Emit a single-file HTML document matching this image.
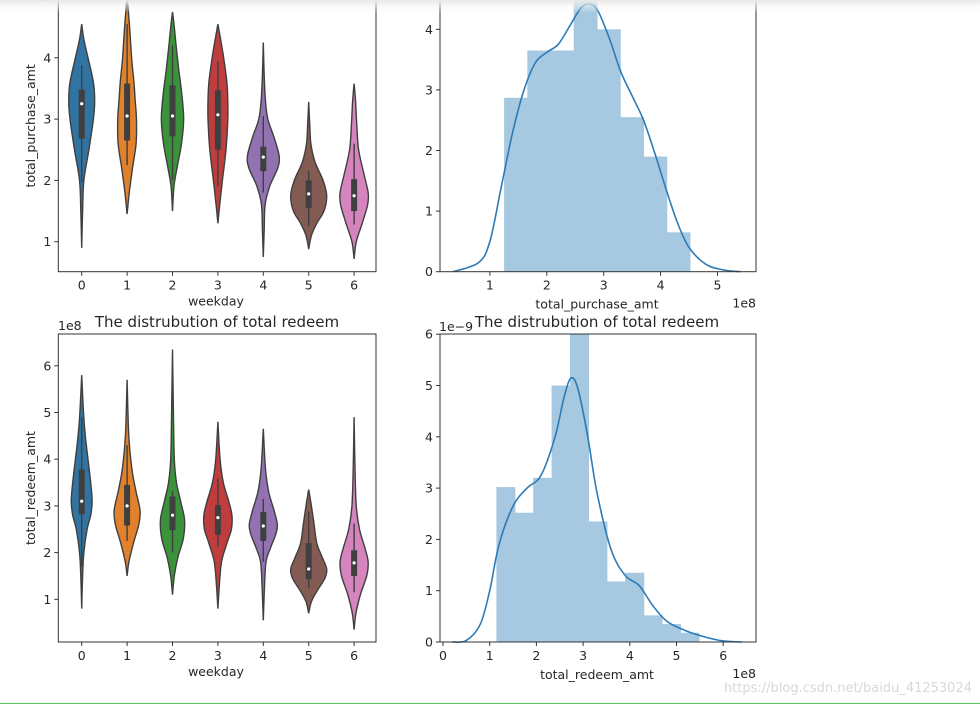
<!DOCTYPE html>
<html><head><meta charset="utf-8">
<style>
html,body{margin:0;padding:0;background:#fff;width:980px;height:705px;overflow:hidden}
svg{position:absolute;left:0;top:0}
text{font-family:"DejaVu Sans","Liberation Sans",sans-serif;fill:#262626}
</style></head>
<body>
<svg id="chart" width="980" height="705">
<defs><linearGradient id="topg" x1="0" y1="0" x2="0" y2="1"><stop offset="0" stop-color="#e8e8e8"/><stop offset="1" stop-color="#fff" stop-opacity="0"/></linearGradient></defs>
</svg>
<script>
// ---- data: weekday violins (values in 1e8) ----
const weekdays = [0,1,2,3,4,5,6];
const violinColors = ["#3274a1","#e1812c","#3a923a","#c03d3e","#9372b2","#845b53","#d684bd"];
const purchaseVals = [
 [0.9,1.5,2.0,2.5,3.0,3.3,3.6,4.0,4.3,4.55],
 [1.45,1.8,2.2,2.6,3.0,3.3,3.6,4.0,4.5,5.0],
 [1.5,1.9,2.2,2.6,3.0,3.4,3.8,4.2,4.5,4.75],
 [1.3,1.6,2.0,2.5,3.0,3.3,3.6,4.0,4.3,4.55],
 [0.75,1.2,1.6,1.9,2.2,2.4,2.7,3.0,3.3,3.7,4.25],
 [0.88,1.1,1.3,1.5,1.75,2.0,2.3,2.6,2.9,3.28],
 [0.72,1.0,1.3,1.6,1.8,2.1,2.5,2.9,3.3,3.58]];
const purchaseDens = [
 [0,0.05,0.12,0.4,0.65,0.72,0.65,0.35,0.12,0],
 [0,0.12,0.3,0.5,0.52,0.45,0.38,0.25,0.14,0],
 [0,0.08,0.25,0.5,0.62,0.52,0.35,0.2,0.1,0],
 [0,0.1,0.25,0.45,0.55,0.55,0.5,0.32,0.15,0],
 [0,0.05,0.1,0.35,0.8,0.88,0.6,0.25,0.12,0.05,0],
 [0,0.15,0.45,0.85,1,0.8,0.35,0.12,0.06,0],
 [0,0.12,0.45,0.75,0.78,0.55,0.25,0.15,0.08,0]];
const purchaseBox = [[1.97,2.68,3.25,3.48,3.88],[2.25,2.65,3.05,3.58,4.55],[2.0,2.72,3.05,3.55,4.2],[1.9,2.5,3.07,3.47,3.95],[1.8,2.15,2.38,2.55,3.05],[1.25,1.55,1.78,2.0,2.15],[1.28,1.5,1.75,2.02,2.6]];
const redeemVals = [
 [0.8,1.5,2.0,2.5,2.8,3.1,3.5,4.0,4.5,5.0,5.8],
 [1.5,1.8,2.2,2.6,2.9,3.3,3.7,4.2,4.7,5.7],
 [1.1,1.5,1.9,2.3,2.7,3.1,3.5,4.0,5.0,6.35],
 [0.8,1.3,1.8,2.2,2.5,2.8,3.1,3.5,4.0,4.8],
 [0.55,1.2,1.8,2.1,2.4,2.6,2.9,3.3,3.8,4.65],
 [0.7,0.95,1.2,1.45,1.65,1.9,2.2,2.6,3.0,3.35],
 [0.35,0.7,1.1,1.5,1.8,2.1,2.5,3.0,3.8,4.9]];
const redeemDens = [
 [0,0.05,0.12,0.3,0.5,0.58,0.5,0.35,0.2,0.1,0],
 [0,0.1,0.35,0.65,0.72,0.5,0.3,0.15,0.07,0],
 [0,0.1,0.3,0.6,0.67,0.45,0.22,0.1,0.05,0],
 [0,0.08,0.2,0.5,0.75,0.78,0.6,0.3,0.12,0],
 [0,0.06,0.15,0.4,0.7,0.78,0.6,0.3,0.12,0],
 [0,0.15,0.5,0.9,1,0.75,0.45,0.3,0.15,0],
 [0,0.1,0.35,0.7,0.78,0.6,0.3,0.12,0.05,0]];
const redeemBox = [[1.7,2.82,3.1,3.78,4.9],[2.25,2.58,3.0,3.45,4.3],[2.0,2.48,2.8,3.2,3.32],[2.12,2.38,2.75,3.02,3.6],[1.8,2.25,2.57,2.87,3.15],[1.25,1.43,1.65,2.2,2.88],[1.15,1.5,1.78,2.05,2.62]];
// ---- data: histograms ----
const purchaseBinStart = 1.255, purchaseBinWidth = 0.408;
const purchaseHist = [2.87,3.65,3.65,4.5,4.0,2.55,1.9,0.65];
const purchaseKdeX = [0.35,0.8,1.0,1.2,1.4,1.6,1.8,2.0,2.2,2.4,2.6,2.75,2.9,3.1,3.3,3.5,3.7,3.9,4.1,4.3,4.5,4.8,5.1,5.4];
const purchaseKdeY = [0,0.15,0.5,1.4,2.3,3.0,3.45,3.62,3.75,4.05,4.35,4.42,4.3,3.85,3.3,2.9,2.5,1.95,1.35,0.8,0.4,0.12,0.03,0];
const redeemBinStart = 1.15, redeemBinWidth = 0.394;
const redeemHist = [3.02,2.52,3.2,5.0,6.5,2.35,1.18,1.35,0.52,0.35,0.18];
const redeemKdeX = [0.2,0.5,0.8,1.0,1.2,1.5,1.8,2.1,2.4,2.6,2.75,2.9,3.1,3.3,3.6,3.9,4.2,4.5,4.8,5.2,5.6,6.0,6.4];
const redeemKdeY = [0,0.03,0.35,1.0,1.9,2.65,3.0,3.25,4.0,4.8,5.15,4.9,4.0,2.9,1.8,1.3,1.1,0.7,0.4,0.22,0.1,0.02,0];
const violinYTicks=[1,2,3,4,5], redeemViolinYTicks=[1,2,3,4,5,6];
const purchaseHistYTicks=[0,1,2,3,4], purchaseHistXTicks=[1,2,3,4,5];
const redeemHistYTicks=[0,1,2,3,4,5,6], redeemHistXTicks=[0,1,2,3,4,5,6];

const svg=document.getElementById('chart'), NS='http://www.w3.org/2000/svg';
function mk(tag,attrs,parent){const e=document.createElementNS(NS,tag);for(const k in attrs)e.setAttribute(k,attrs[k]);(parent||svg).appendChild(e);return e;}
function txt(s,x,y,size,anchor,parent,rot){const t=mk('text',{x:x,y:y,'font-size':size,'text-anchor':anchor||'middle'},parent);if(rot)t.setAttribute('transform','rotate(-90 '+x+' '+y+')');t.textContent=s;return t;}
function smooth(pts){let d='M'+pts[0][0]+','+pts[0][1];for(let i=0;i<pts.length-1;i++){const p0=pts[i-1]||pts[i],p1=pts[i],p2=pts[i+1],p3=pts[i+2]||p2;d+=' C'+(p1[0]+(p2[0]-p0[0])/6)+','+(p1[1]+(p2[1]-p0[1])/6)+' '+(p2[0]-(p3[0]-p1[0])/6)+','+(p2[1]-(p3[1]-p1[1])/6)+' '+p2[0]+','+p2[1];}return d;}
function axesFrame(L,T,R,B,name){const r=mk('rect',{x:L,y:T,width:R-L,height:B-T,fill:'none',stroke:'#333',"stroke-width":1});}
function yTicks(ticks,sy,L,g){ticks.forEach(v=>{const y=sy(v);mk('line',{x1:L-4,x2:L,y1:y,y2:y,stroke:'#333'},g);const t=txt(String(v),L-7,y+4.5,12.5,'end',g);});}
function xTicks(ticks,sx,B,g){ticks.forEach(v=>{const x=sx(v);mk('line',{x1:x,x2:x,y1:B,y2:B+4,stroke:'#333'},g);const t=txt(String(v),x,B+18,12.5,'middle',g);});}

function violinPanel(name,L,T,R,B,y1px,perUnit,vals,dens,box,yt,ylab){
 const g=mk('g',{});
 const sy=v=>y1px-(v-1)*perUnit, sx=c=>81.7+c*45.4, W=18;
 weekdays.forEach((c,i)=>{
  const cx=sx(c),right=vals[i].map((v,k)=>[cx+dens[i][k]*W,sy(v)]),left=vals[i].map((v,k)=>[cx-dens[i][k]*W,sy(v)]).reverse();
  const d=smooth(right)+' L'+smooth(left).slice(1)+' Z';
  const p=mk('path',{d:d,fill:violinColors[i],stroke:'#3f3f3f','stroke-width':1.4},g);
  
  const b=box[i];
  mk('line',{x1:cx,x2:cx,y1:sy(b[0]),y2:sy(b[4]),stroke:'#3f3f3f','stroke-width':1.4},g);
  const r=mk('rect',{x:cx-3,y:sy(b[3]),width:6,height:sy(b[1])-sy(b[3]),fill:'#3f3f3f'},g);
  
  mk('circle',{cx:cx,cy:sy(b[2]),r:1.6,fill:'#fff'},g);
 });
 axesFrame(L,T,R,B,name+'-frame');
 yTicks(yt,sy,L,g);xTicks(weekdays,sx,B,g);
 const xl=txt('weekday',216,B+34,12.5,'middle',g);
 const yl=txt(ylab,35,(T+B)/2,12.5,'middle',g,true);
}
function histPanel(name,L,T,R,B,x0px,xUnit,yUnit,start,width,hist,kx,ky,xt,yt,xlab){
 const g=mk('g',{});
 const sx=v=>x0px+v*xUnit, sy=v=>B-v*yUnit;
 hist.forEach((h,i)=>{const x=sx(start+i*width),w=sx(start+(i+1)*width)-x;const top=Math.max(sy(h),T);
  const r=mk('rect',{x:x-0.3,y:top,width:w+0.6,height:B-top,fill:'#a6c8e0'},g);});
 const pts=kx.map((v,i)=>[sx(v),sy(ky[i])]);
 const k=mk('path',{d:smooth(pts),fill:'none',stroke:'#2d7bb6','stroke-width':1.6},g);
 axesFrame(L,T,R,B,name+'-frame');
 yTicks(yt,sy,L,g);xTicks(xt,sx,B,g);
 const xl=txt(xlab,597,B+37,12.5,'middle',g);
 const e=txt('1e8',756,B+36,12.5,'end',g);
}
violinPanel('purchase-violin',58.3,-20,376,271.7,241.7,61.3,purchaseVals,purchaseDens,purchaseBox,violinYTicks,'total_purchase_amt');
histPanel('purchase-hist',440,-20,756,271.7,433,56.9,60.6,purchaseBinStart,purchaseBinWidth,purchaseHist,purchaseKdeX,purchaseKdeY,purchaseHistXTicks,purchaseHistYTicks,'total_purchase_amt');
violinPanel('redeem-violin',58.3,334,376,642,599.3,46.7,redeemVals,redeemDens,redeemBox,redeemViolinYTicks,'total_redeem_amt');
histPanel('redeem-hist',440,334,756,642,443,46.7,51.3,redeemBinStart,redeemBinWidth,redeemHist,redeemKdeX,redeemKdeY,redeemHistXTicks,redeemHistYTicks,'total_redeem_amt');
let t;
t=txt('The distrubution of total redeem',217,327,15);
t=txt('The distrubution of total redeem',597,327,15);
t=txt('1e8',58,330,12.5,'start');
t=txt('1e\u22129',439,331,12.5,'start');
t=txt('https://blog.csdn.net/baidu_41253024',972,692,13,'end');t.style.fill='#d8d8d8';
const band=mk('rect',{x:0,y:0,width:980,height:13,fill:'url(#topg)'});
const gl=mk('line',{x1:0,x2:980,y1:703.5,y2:703.5,stroke:'#5cc85c','stroke-width':1});
</script>
</body></html>
